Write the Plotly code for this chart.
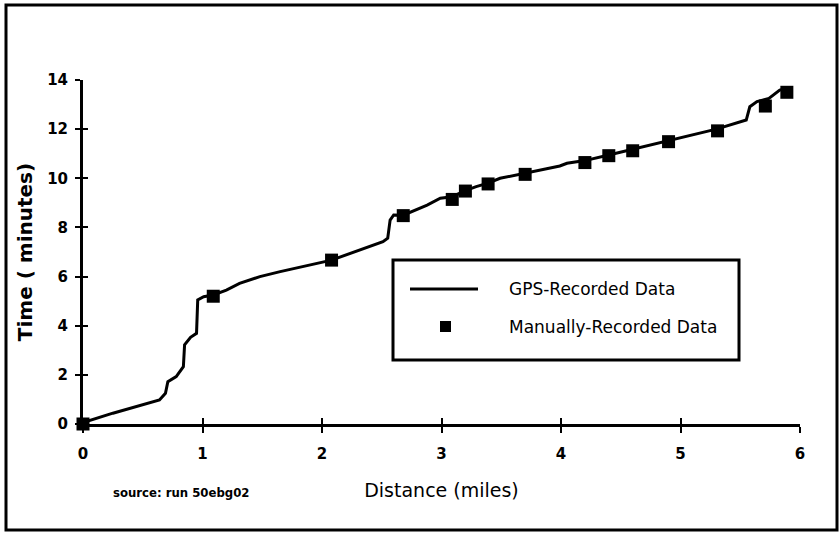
import plotly.graph_objects as go

# GPS-recorded trace (distance in miles, time in minutes)
gps_x = [0, 0.02, 0.25, 0.48, 0.64, 0.69, 0.71, 0.78, 0.84, 0.85, 0.90, 0.95, 0.96, 1.01,
         1.09, 1.20, 1.31, 1.48, 1.65, 2.08, 2.51, 2.55, 2.57, 2.60, 2.68, 2.88, 2.99, 3.09,
         3.20, 3.29, 3.39, 3.49, 3.70, 3.99, 4.05, 4.20, 4.40, 4.61, 4.94, 5.30, 5.55, 5.58,
         5.64, 5.74, 5.83, 5.89]
gps_y = [0, 0.09, 0.44, 0.77, 0.98, 1.25, 1.72, 1.93, 2.33, 3.22, 3.53, 3.69, 5.05, 5.18,
         5.25, 5.45, 5.72, 6.0, 6.2, 6.67, 7.42, 7.56, 8.30, 8.51, 8.50, 8.91, 9.19, 9.25,
         9.5, 9.66, 9.8, 10.0, 10.2, 10.5, 10.61, 10.72, 10.95, 11.2, 11.6, 12.0, 12.37, 12.91,
         13.12, 13.25, 13.59, 13.66]

# Manually-recorded checkpoints
manual_x = [0, 1.09, 2.08, 2.68, 3.09, 3.20, 3.39, 3.70, 4.20, 4.40, 4.60, 4.90, 5.31, 5.71, 5.89]
manual_y = [0, 5.2, 6.67, 8.48, 9.14, 9.48, 9.77, 10.16, 10.64, 10.92, 11.12, 11.49, 11.93, 12.94, 13.5]

x_ticks = [0, 1, 2, 3, 4, 5, 6]
y_ticks = [0, 2, 4, 6, 8, 10, 12, 14]

W, H = 840, 537
L, R, T, B = 83, 800, 80, 424
FONT = "DejaVu Sans"


def px(x):
    return (x - L) / (R - L)


def py(y):
    return (B - y) / (B - T)


fig = go.Figure()
fig.add_trace(go.Scatter(x=gps_x, y=gps_y, mode="lines", name="GPS-Recorded Data",
                         line=dict(color="black", width=3), cliponaxis=False,
                         showlegend=False))
fig.add_trace(go.Scatter(x=manual_x, y=manual_y, mode="markers", name="Manually-Recorded Data",
                         marker=dict(symbol="square", size=13, color="black"),
                         cliponaxis=False, showlegend=False))
# empty trace so the overlaid tick-only axes (inner half of the crossing ticks) get drawn
fig.add_trace(go.Scatter(x=[], y=[], xaxis="x2", yaxis="y2", mode="markers",
                         showlegend=False, hoverinfo="skip"))

axis_common = dict(showgrid=False, zeroline=False, color="black")
fig.update_layout(
    width=W, height=H,
    margin=dict(l=L, r=W - R, t=T, b=H - B),
    paper_bgcolor="white", plot_bgcolor="white",
    font=dict(family=FONT, color="black"),
    xaxis=dict(range=[0, 6], tickvals=x_ticks, ticks="outside", ticklen=6, tickwidth=2,
               tickcolor="black", showline=True, linewidth=3, linecolor="black",
               tickfont=dict(size=15, family="DejaVu Sans", weight="bold"),
               ticklabelstandoff=8,
               title=dict(text="Distance (miles)", font=dict(size=19), standoff=22),
               **axis_common),
    yaxis=dict(range=[0, 14], tickvals=y_ticks, ticks="outside", ticklen=5, tickwidth=2,
               tickcolor="black", showline=True, linewidth=3, linecolor="black",
               tickfont=dict(size=15, family="DejaVu Sans", weight="bold"),
               ticklabelstandoff=4,
               title=dict(text="Time ( minutes)", font=dict(size=20, weight="bold"), standoff=10),
               **axis_common),
    xaxis2=dict(range=[0, 6], tickvals=x_ticks, overlaying="x", anchor="y2", side="bottom",
                ticks="inside", ticklen=6, tickwidth=2, tickcolor="black",
                showticklabels=False, showline=False, fixedrange=True, **axis_common),
    yaxis2=dict(range=[0, 14], tickvals=y_ticks, overlaying="y", anchor="x2", side="left",
                ticks="inside", ticklen=5, tickwidth=2, tickcolor="black",
                showticklabels=False, showline=False, fixedrange=True, **axis_common),
)

shapes = [
    # outer frame
    dict(type="rect", xref="paper", yref="paper", x0=px(6), x1=px(837), y0=py(530), y1=py(5),
         line=dict(color="black", width=3), fillcolor="rgba(0,0,0,0)", layer="above"),
    # legend box
    dict(type="rect", xref="paper", yref="paper", x0=px(393), x1=px(739), y0=py(360), y1=py(260),
         line=dict(color="black", width=3), fillcolor="white", layer="above"),
    # legend line sample
    dict(type="line", xref="paper", yref="paper", x0=px(410), x1=px(478), y0=py(289), y1=py(289),
         line=dict(color="black", width=3), layer="above"),
    # legend marker sample
    dict(type="rect", xref="paper", yref="paper", x0=px(440), x1=px(451), y0=py(332), y1=py(321),
         line=dict(color="black", width=0), fillcolor="black", layer="above"),
]
fig.update_layout(shapes=shapes)

annotations = [
    dict(text="GPS-Recorded Data", xref="paper", yref="paper", x=px(507), y=py(289),
         xanchor="left", yanchor="middle", showarrow=False, font=dict(size=17)),
    dict(text="Manually-Recorded Data", xref="paper", yref="paper", x=px(507), y=py(327),
         xanchor="left", yanchor="middle", showarrow=False, font=dict(size=17)),
    dict(text="source: run 50ebg02", xref="paper", yref="paper", x=px(181), y=py(493),
         xanchor="center", yanchor="middle", showarrow=False,
         font=dict(size=13, family="DejaVu Sans Condensed", weight="bold")),
]
fig.update_layout(annotations=annotations)

fig.write_html("out.html")
